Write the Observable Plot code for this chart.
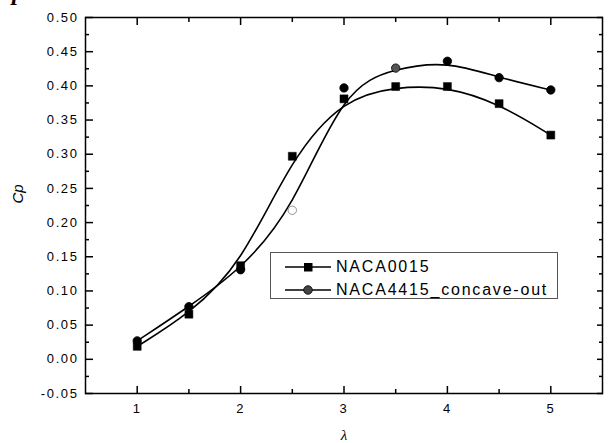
<!DOCTYPE html>
<html><head><meta charset="utf-8">
<script src="https://cdn.jsdelivr.net/npm/d3@7"></script>
<script src="https://cdn.jsdelivr.net/npm/@observablehq/plot@0.6"></script>
<style>
body{margin:0;background:#fff;}
#wrap{position:relative;width:612px;height:443px;overflow:hidden;font-family:"Liberation Sans",Arial,sans-serif;background:#fff;}
#wrap svg g[aria-label$="tick label"] text{letter-spacing:1.6px;}
#legend{position:absolute;left:270px;top:252px;width:286px;height:45px;border:1px solid #555;background:#fff;}
#legend .row{position:absolute;left:0;height:22px;display:flex;align-items:center;}
#legend .row span{font-size:16px;letter-spacing:1.8px;color:#000;margin-left:4px;}
#corner{position:absolute;left:12px;top:-21px;line-height:26px;font:italic bold 24px "Liberation Serif",serif;color:#000;}
</style></head><body><div id="wrap"><div id="corner">p</div></div>
<script>
const lambda = [1, 1.5, 2, 2.5, 3, 3.5, 4, 4.5, 5];
const cpNACA0015 = [0.019, 0.066, 0.137, 0.297, 0.381, 0.399, 0.399, 0.374, 0.328];
const cpNACA4415 = [0.027, 0.077, 0.131, 0.218, 0.397, 0.426, 0.436, 0.412, 0.394];
const seriesNames = ["NACA0015", "NACA4415_concave-out"];
const xTicks = [1, 2, 3, 4, 5];
const xMinorTicks = [1.5, 2.5, 3.5, 4.5];
const yTicks = [-0.05, 0, 0.05, 0.10, 0.15, 0.20, 0.25, 0.30, 0.35, 0.40, 0.45, 0.50];
const yMinorTicks = [-0.025, 0.025, 0.075, 0.125, 0.175, 0.225, 0.275, 0.325, 0.375, 0.425, 0.475];
const xLabel = "λ";
const yLabel = "Cp";

const s0 = lambda.map((x, i) => ({x, y: cpNACA0015[i], s: seriesNames[0]}));
const s1 = lambda.map((x, i) => ({x, y: cpNACA4415[i], s: seriesNames[1]}));

const fmtY = d => d.toFixed(2);
const fmtX = d => String(d);
const circleFill = d => d.x === 2.5 ? "white" : d.x === 3.5 ? "#555" : "black";
const circleStroke = d => d.x === 2.5 ? "#777" : "black";

const chart = Plot.plot({
  width: 612, height: 443,
  marginLeft: 85, marginRight: 10, marginTop: 17, marginBottom: 50,
  x: {domain: [0.5, 5.5]},
  y: {domain: [-0.05, 0.5]},
  style: {fontFamily: '"Liberation Sans", Arial, sans-serif', fontSize: "13px", color: "black", background: "white", overflow: "visible"},
  marks: [
    Plot.axisX({anchor: "bottom", ticks: xTicks, tickSize: 0, tickPadding: 10, tickFormat: fmtX, label: null, fontSize: 13, fill: "black"}),
    Plot.axisX({anchor: "bottom", ticks: xTicks, tickSize: -7, text: null, label: null, strokeWidth: 1.5}),
    Plot.axisX({anchor: "bottom", ticks: xMinorTicks, tickSize: -4, text: null, label: null, strokeWidth: 1.5}),
    Plot.axisX({anchor: "top", ticks: xTicks, tickSize: -7, text: null, label: null, strokeWidth: 1.5}),
    Plot.axisX({anchor: "top", ticks: xMinorTicks, tickSize: -4, text: null, label: null, strokeWidth: 1.5}),
    Plot.axisY({anchor: "left", ticks: yTicks, tickSize: 0, tickPadding: 7, tickFormat: fmtY, label: null, fontSize: 13, fill: "black"}),
    Plot.axisY({anchor: "left", ticks: yTicks, tickSize: -8, text: null, label: null, strokeWidth: 1.5}),
    Plot.axisY({anchor: "left", ticks: yMinorTicks, tickSize: -4, text: null, label: null, strokeWidth: 1.5}),
    Plot.axisY({anchor: "right", ticks: yTicks, tickSize: -6, text: null, label: null, strokeWidth: 1.5}),
    Plot.axisY({anchor: "right", ticks: yMinorTicks, tickSize: -4, text: null, label: null, strokeWidth: 1.5}),
    Plot.frame({stroke: "black", strokeWidth: 1.5}),
    Plot.line(s0, {x: "x", y: "y", curve: "basis", stroke: "black", strokeWidth: 1.6}),
    Plot.line(s1, {x: "x", y: "y", curve: "basis", stroke: "black", strokeWidth: 1.6}),
    Plot.dot(s1, {x: "x", y: "y", symbol: "circle", r: 4.2, fill: circleFill, stroke: circleStroke, strokeWidth: 0.8}),
    Plot.dot(s0, {x: "x", y: "y", symbol: "square", r: 4.5, fill: "black", stroke: "black", strokeWidth: 0.5}),
    Plot.text([xLabel], {frameAnchor: "bottom", dy: 46, fontStyle: "italic", fontSize: 15, fill: "black", fontFamily: '"Liberation Serif", serif'}),
    Plot.text([yLabel], {frameAnchor: "left", dx: -67, dy: -2, rotate: -90, fontStyle: "italic", fontSize: 15, fill: "black"})
  ]
});
const wrap = document.getElementById("wrap");
wrap.insertBefore(chart, wrap.firstChild);

// legend
const legend = document.createElement("div");
legend.id = "legend";
const markers = [
  '<rect x="19" y="-4" width="8.5" height="8.5" fill="black"/>',
  '<circle cx="23" cy="0" r="4.3" fill="#444" stroke="black" stroke-width="0.8"/>'
];
seriesNames.forEach((name, i) => {
  const row = document.createElement("div");
  row.className = "row";
  row.style.top = (i === 0 ? 3 : 26) + "px";
  row.style.left = "14px";
  row.innerHTML = `<svg width="47" height="14" viewBox="0 -7 47 14"><line x1="0" x2="46" y1="0" y2="0" stroke="black" stroke-width="1.6"/>${markers[i]}</svg><span>${name}</span>`;
  legend.appendChild(row);
});
wrap.appendChild(legend);
</script>
</body></html>
